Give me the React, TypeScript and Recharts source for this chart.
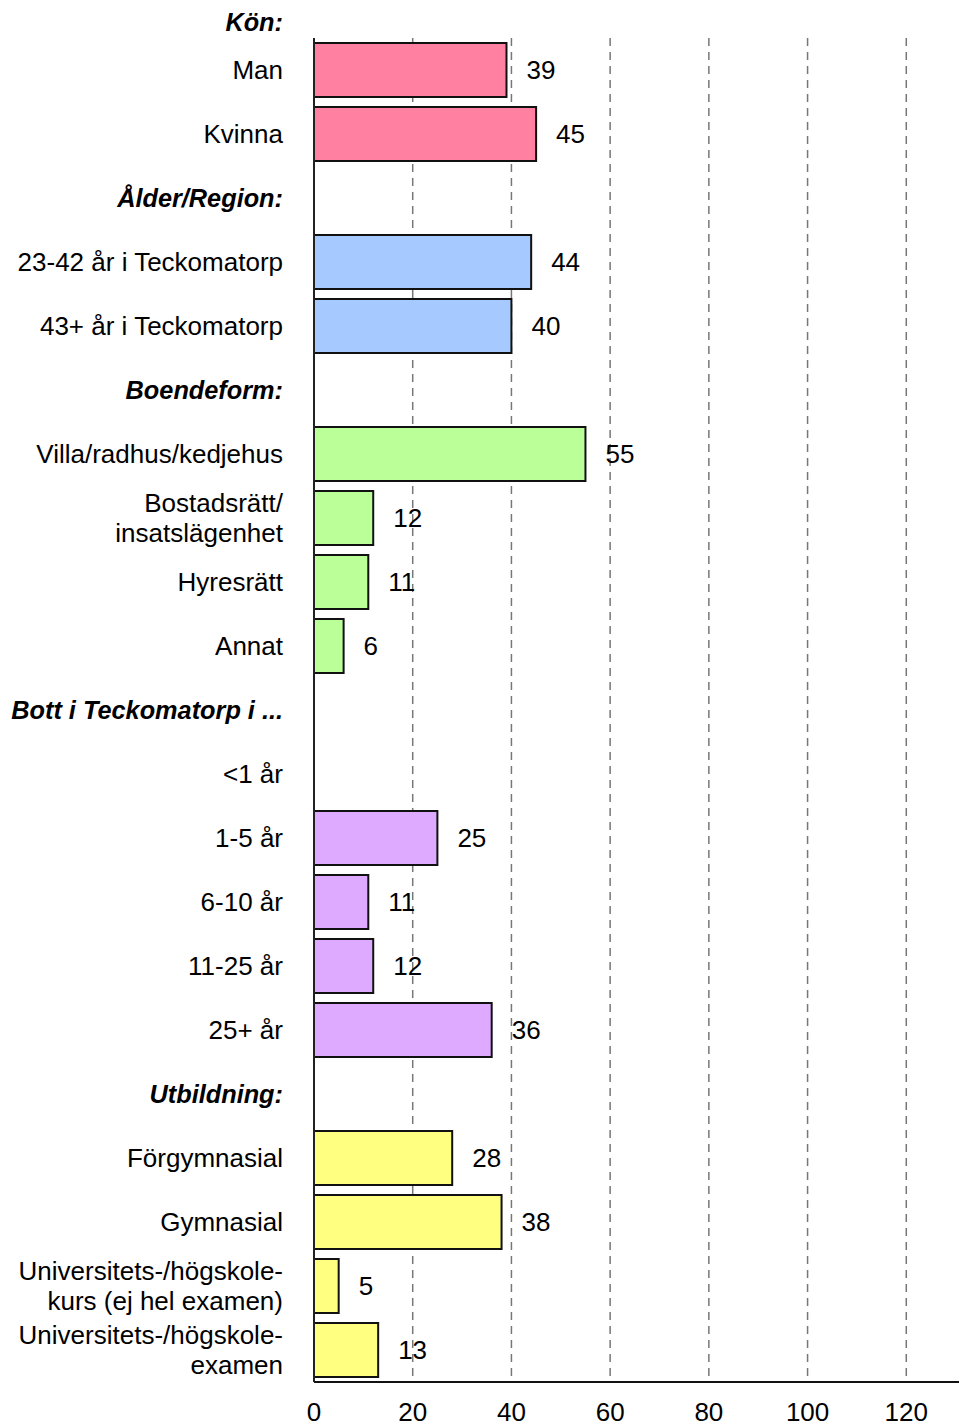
import React from 'react';
import { BarChart, Bar, XAxis, YAxis, CartesianGrid, Cell, LabelList } from 'recharts';

// rows from top to bottom; headers have no value
const categories = [
  'Man', 'Kvinna',
  'Ålder/Region:', '23-42 år i Teckomatorp', '43+ år i Teckomatorp',
  'Boendeform:', 'Villa/radhus/kedjehus', 'Bostadsrätt/\ninsatslägenhet', 'Hyresrätt', 'Annat',
  'Bott i Teckomatorp i ...', '<1 år', '1-5 år', '6-10 år', '11-25 år', '25+ år',
  'Utbildning:', 'Förgymnasial', 'Gymnasial', 'Universitets-/högskole-\nkurs (ej hel examen)', 'Universitets-/högskole-\nexamen',
];
const values = [
  39, 45,
  null, 44, 40,
  null, 55, 12, 11, 6,
  null, null, 25, 11, 12, 36,
  null, 28, 38, 5, 13,
];
const groups = [
  'kon', 'kon',
  'head', 'alder', 'alder',
  'head', 'boende', 'boende', 'boende', 'boende',
  'head', 'bott', 'bott', 'bott', 'bott', 'bott',
  'head', 'utb', 'utb', 'utb', 'utb',
];
const xTicks = [0, 20, 40, 60, 80, 100, 120];

const colors: Record<string, string> = {
  kon: '#FF80A0',
  alder: '#A6CAFF',
  boende: '#BBFF99',
  bott: '#DDAAFF',
  utb: '#FFFF80',
  head: '#ffffff',
};

const data = categories.map((name, i) => ({ name, value: values[i], group: groups[i] }));

const FONT = '"Liberation Sans", Arial, sans-serif';
const FS = 26;
const HEAD_FS = 25.3;

const CategoryTick = (props: any) => {
  const { x, y, payload } = props;
  const idx = categories.indexOf(payload.value);
  const isHead = groups[idx] === 'head';
  const lines = String(payload.value).split('\n');
  const lh = 30;
  const start = -((lines.length - 1) * lh) / 2;
  return (
    <text
      x={x}
      y={y}
      textAnchor='end'
      fontFamily={FONT}
      fontSize={isHead ? HEAD_FS : FS}
      fontWeight={isHead ? 'bold' : 'normal'}
      fontStyle={isHead ? 'italic' : 'normal'}
      fill='#000'
    >
      {lines.map((l, i) => (
        <tspan key={i} x={x} y={y + start + i * lh} dy='0.36em'>
          {l}
        </tspan>
      ))}
    </text>
  );
};

const ValueLabel = (props: any) => {
  const { x, y, width, height, value } = props;
  if (value == null) return null;
  return (
    <text
      x={x + width + 20}
      y={y + height / 2}
      dy='0.36em'
      fontFamily={FONT}
      fontSize={FS}
      fill='#000'
    >
      {value}
    </text>
  );
};

export default function App() {
  return (
    <div style={{ position: 'relative', width: 959, height: 1419, overflow: 'hidden', background: '#fff' }}>
      <div
        style={{
          position: 'absolute',
          left: 0,
          top: 0,
          width: 275,
          lineHeight: '28px',
          textAlign: 'right',
          fontFamily: FONT,
          fontSize: HEAD_FS,
          fontWeight: 'bold',
          fontStyle: 'italic',
          color: '#000',
          zIndex: 2,
        }}
      >
        Kön:
      </div>
      <BarChart
        width={997}
        height={1419}
        data={data}
        layout='vertical'
        margin={{ top: 30, right: 0, bottom: 0, left: 0 }}
        barCategoryGap={0}
      >
        <CartesianGrid
          horizontal={false}
          vertical={true}
          stroke='#777'
          strokeWidth={1.5}
          strokeDasharray='8 6'
          xAxisId='bottom'
        />
        <XAxis
          xAxisId='top'
          orientation='top'
          type='number'
          domain={[0, 140]}
          ticks={xTicks}
          height={0}
          tick={false}
          tickLine={false}
          axisLine={{ stroke: '#111', strokeWidth: 2 }}
        />
        <XAxis
          xAxisId='bottom'
          type='number'
          domain={[0, 140]}
          ticks={xTicks}
          interval={0}
          height={45}
          tickSize={0}
          tickMargin={21}
          tickLine={false}
          axisLine={{ stroke: '#111', strokeWidth: 2 }}
          tick={{ fontFamily: FONT, fontSize: FS, fill: '#000' }}
        />
        <YAxis
          type='category'
          dataKey='name'
          width={306}
          interval={0}
          tickSize={0}
          tickMargin={31}
          tickLine={false}
          axisLine={{ stroke: '#222', strokeWidth: 2 }}
          tick={<CategoryTick />}
        />
        <Bar
          xAxisId='bottom'
          dataKey='value'
          barSize={54}
          stroke='#111'
          strokeWidth={2}
          isAnimationActive={false}
        >
          {data.map((d, i) => (
            <Cell key={i} fill={colors[d.group]} />
          ))}
          <LabelList dataKey='value' content={<ValueLabel />} />
        </Bar>
      </BarChart>
    </div>
  );
}
